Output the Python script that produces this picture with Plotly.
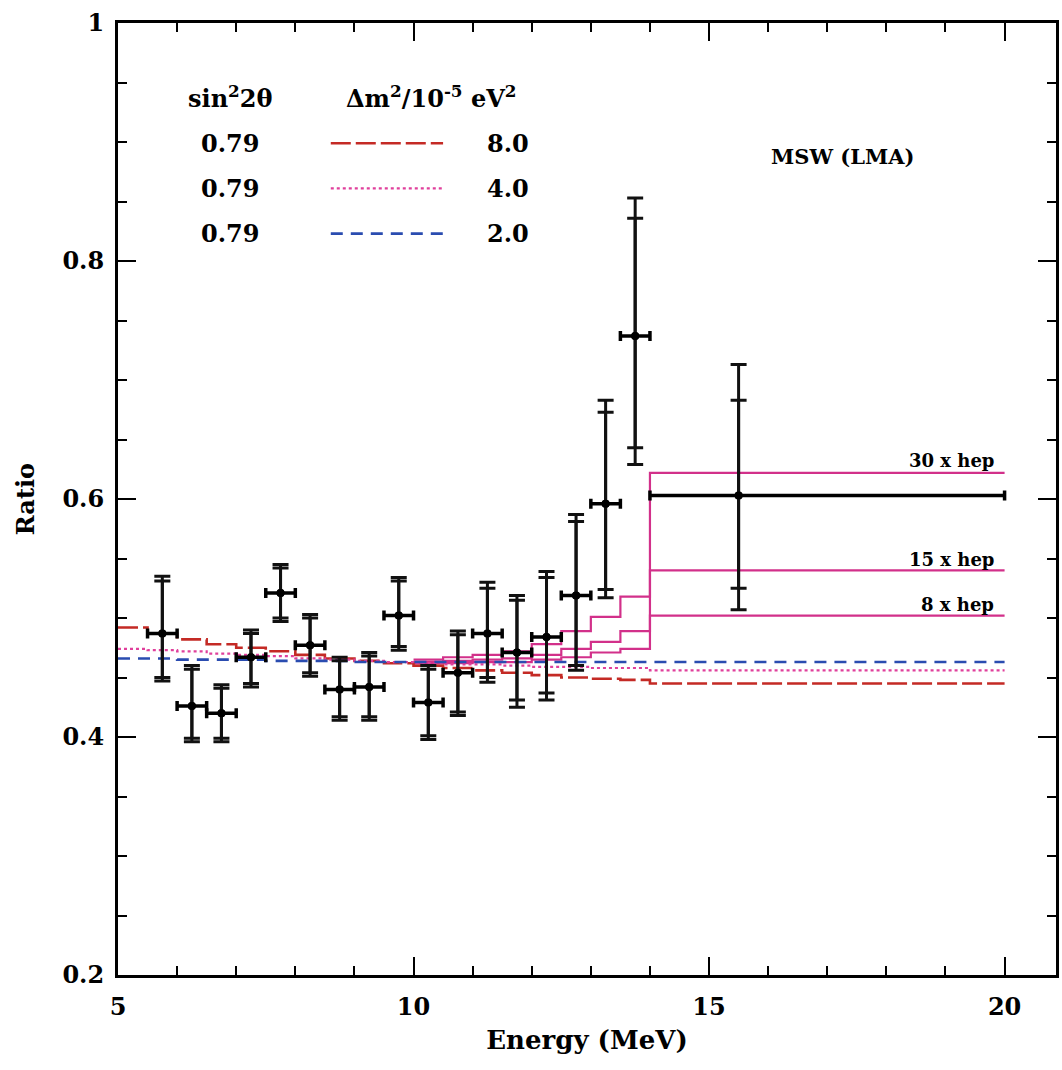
import plotly.graph_objects as go

# ---------------- data ----------------
# measured points (bin centres, MeV) and ratio
energy = [5.75, 6.25, 6.75, 7.25, 7.75, 8.25, 8.75, 9.25, 9.75, 10.25,
          10.75, 11.25, 11.75, 12.25, 12.75, 13.25, 13.75, 15.5]
bin_lo = [5.5, 6.0, 6.5, 7.0, 7.5, 8.0, 8.5, 9.0, 9.5, 10.0,
          10.5, 11.0, 11.5, 12.0, 12.5, 13.0, 13.5, 14.0]
bin_hi = [6.0, 6.5, 7.0, 7.5, 8.0, 8.5, 9.0, 9.5, 10.0, 10.5,
          11.0, 11.5, 12.0, 12.5, 13.0, 13.5, 14.0, 20.0]
ratio = [0.487, 0.426, 0.420, 0.467, 0.521, 0.477, 0.440, 0.442, 0.502, 0.429,
         0.454, 0.487, 0.471, 0.484, 0.519, 0.596, 0.737, 0.603]
# statistical error-bar ends
stat_hi = [0.531, 0.457, 0.441, 0.487, 0.542, 0.500, 0.464, 0.468, 0.531, 0.457,
           0.486, 0.525, 0.515, 0.534, 0.581, 0.673, 0.836, 0.683]
stat_lo = [0.450, 0.399, 0.399, 0.445, 0.500, 0.454, 0.417, 0.417, 0.476, 0.401,
           0.421, 0.450, 0.431, 0.437, 0.460, 0.524, 0.643, 0.525]
# total (stat+syst) error-bar ends
tot_hi = [0.535, 0.460, 0.444, 0.490, 0.545, 0.503, 0.467, 0.471, 0.534, 0.460,
          0.489, 0.530, 0.519, 0.539, 0.587, 0.683, 0.853, 0.713]
tot_lo = [0.447, 0.396, 0.396, 0.442, 0.497, 0.451, 0.414, 0.414, 0.473, 0.398,
          0.418, 0.446, 0.425, 0.431, 0.456, 0.517, 0.629, 0.507]

# model histograms (left bin edges, last bin 14-20 MeV)
model_edges = [5.0, 5.5, 6.0, 6.5, 7.0, 7.5, 8.0, 8.5, 9.0, 9.5,
               10.0, 10.5, 11.0, 11.5, 12.0, 12.5, 13.0, 13.5, 14.0]
model_end = 20.0
msw_dm8 = [0.492, 0.487, 0.482, 0.478, 0.475, 0.472, 0.469, 0.466, 0.464, 0.462,
           0.460, 0.458, 0.456, 0.454, 0.452, 0.450, 0.449, 0.448, 0.445]
msw_dm4 = [0.474, 0.473, 0.472, 0.470, 0.469, 0.468, 0.466, 0.465, 0.464, 0.463,
           0.462, 0.461, 0.461, 0.460, 0.459, 0.459, 0.458, 0.458, 0.456]
msw_dm2 = [0.466, 0.466, 0.465, 0.465, 0.465, 0.464, 0.464, 0.464, 0.463, 0.463,
           0.463, 0.463, 0.463, 0.463, 0.463, 0.463, 0.463, 0.463, 0.463]

hep_edges = [10.0, 10.5, 11.0, 11.5, 12.0, 12.5, 13.0, 13.5, 14.0]
hep_30 = [0.465, 0.467, 0.469, 0.472, 0.478, 0.489, 0.501, 0.518, 0.622]
hep_15 = [0.463, 0.464, 0.465, 0.466, 0.469, 0.474, 0.480, 0.489, 0.540]
hep_8 = [0.462, 0.462, 0.463, 0.463, 0.465, 0.467, 0.471, 0.474, 0.502]
hep_labels = ["30 x hep", "15 x hep", "8 x hep"]

sin2 = ["0.79", "0.79", "0.79"]
dm2 = ["8.0", "4.0", "2.0"]

x_ticks = [5, 10, 15, 20]
y_ticks = [0.2, 0.4, 0.6, 0.8, 1.0]
y_ticklabels = ["0.2", "0.4", "0.6", "0.8", "1"]

# ---------------- styling ----------------
FONT = "DejaVu Serif"
RED = "#c42a25"
PINK = "#e0409c"
BLUE = "#2a4cb0"
HEP = "#d2308a"
RED_DASH = "20px,5px"
BLUE_DASH = "12px,8px"

fig = go.Figure()


def step(edges, vals):
    return list(edges) + [model_end], list(vals) + [vals[-1]]


# hep curves (solid magenta)
for vals in (hep_30, hep_15, hep_8):
    xs, ys = step(hep_edges, vals)
    fig.add_trace(go.Scatter(x=xs, y=ys, mode="lines", line_shape="hv",
                             line=dict(color=HEP, width=2.2), showlegend=False,
                             hoverinfo="skip"))

# MSW curves
styles = [(msw_dm8, RED, RED_DASH, 2.6), (msw_dm4, PINK, "dot", 2.2),
          (msw_dm2, BLUE, BLUE_DASH, 2.6)]
for vals, col, dash, w in styles:
    xs, ys = step(model_edges, vals)
    fig.add_trace(go.Scatter(x=xs, y=ys, mode="lines", line_shape="hv",
                             line=dict(color=col, width=w, dash=dash),
                             showlegend=False, hoverinfo="skip"))

# data: total errors + horizontal bin widths
ex_plus = [h - e for h, e in zip(bin_hi, energy)]
ex_minus = [e - l for e, l in zip(energy, bin_lo)]
fig.add_trace(go.Scatter(
    x=energy, y=ratio, mode="markers",
    marker=dict(color="black", size=8),
    error_y=dict(type="data", symmetric=False,
                 array=[h - r for h, r in zip(tot_hi, ratio)],
                 arrayminus=[r - l for r, l in zip(ratio, tot_lo)],
                 color="#111111", thickness=3, width=8),
    error_x=dict(type="data", symmetric=False, array=ex_plus, arrayminus=ex_minus,
                 color="black", thickness=3.5, width=5),
    showlegend=False, hoverinfo="skip"))
# data: statistical errors
fig.add_trace(go.Scatter(
    x=energy, y=ratio, mode="markers",
    marker=dict(color="black", size=8),
    error_y=dict(type="data", symmetric=False,
                 array=[h - r for h, r in zip(stat_hi, ratio)],
                 arrayminus=[r - l for r, l in zip(ratio, stat_lo)],
                 color="#111111", thickness=3, width=8),
    showlegend=False, hoverinfo="skip"))

# ---------------- annotations ----------------
ann = []
bold = dict(family=FONT, size=24, color="black", weight="bold")
ann.append(dict(x=6.9, y=0.938, text="sin<sup>2</sup>2θ", font=bold))
ann.append(dict(x=10.3, y=0.938, text="Δm<sup>2</sup>/10<sup>-5</sup> eV<sup>2</sup>", font=bold))
rows_y = [0.899, 0.861, 0.823]
for yy, s, d in zip(rows_y, sin2, dm2):
    ann.append(dict(x=6.9, y=yy, text=s, font=bold))
    ann.append(dict(x=11.6, y=yy, text=d, font=bold))
ann.append(dict(x=17.25, y=0.888, text="MSW (LMA)",
                font=dict(family=FONT, size=21, color="black", weight="bold")))
hep_text_y = [0.632, 0.549, 0.511]
for yy, t in zip(hep_text_y, hep_labels):
    ann.append(dict(x=19.85, y=yy, text=t, xanchor="right",
                    font=dict(family=FONT, size=18, color="black", weight="bold")))
for a in ann:
    a.setdefault("xanchor", "center")
    a.update(xref="x", yref="y", showarrow=False, yanchor="middle")
fig.update_layout(annotations=ann)

# legend line samples
for yy, col, dash, w in zip(rows_y, [RED, PINK, BLUE], [RED_DASH, "dot", BLUE_DASH], [2.6, 2.2, 2.6]):
    fig.add_shape(type="line", xref="x", yref="y", x0=8.6, x1=10.5, y0=yy, y1=yy,
                  line=dict(color=col, width=w, dash=dash))

# ---------------- axes ----------------
axis_font = dict(family=FONT, size=24, color="black", weight="bold")
fig.update_xaxes(range=[5, 20.87], tickvals=x_ticks, ticktext=[str(v) for v in x_ticks],
                 ticks="inside", ticklen=18, tickwidth=2, tickcolor="black",
                 minor=dict(dtick=1, ticks="inside", ticklen=9, tickwidth=2, tickcolor="black"),
                 mirror="allticks", showline=True, linewidth=3, linecolor="black",
                 showgrid=False, zeroline=False, tickfont=axis_font, ticklabelstandoff=8,
                 title=dict(text="Energy (MeV)", font=dict(family=FONT, size=26, color="black", weight="bold"),
                            standoff=12))
fig.update_yaxes(range=[0.2, 1.0], tickvals=y_ticks, ticktext=y_ticklabels,
                 ticks="inside", ticklen=18, tickwidth=2, tickcolor="black",
                 minor=dict(dtick=0.05, ticks="inside", ticklen=9, tickwidth=2, tickcolor="black"),
                 mirror="allticks", showline=True, linewidth=3, linecolor="black",
                 showgrid=False, zeroline=False, tickfont=axis_font, ticklabelstandoff=6,
                 title=dict(text="Ratio", font=dict(family=FONT, size=24, color="black", weight="bold"),
                            standoff=22))

fig.update_layout(width=1062, height=1070,
                  margin=dict(l=118, r=3, t=23, b=95),
                  paper_bgcolor="white", plot_bgcolor="white")

fig.write_html("out.html")
